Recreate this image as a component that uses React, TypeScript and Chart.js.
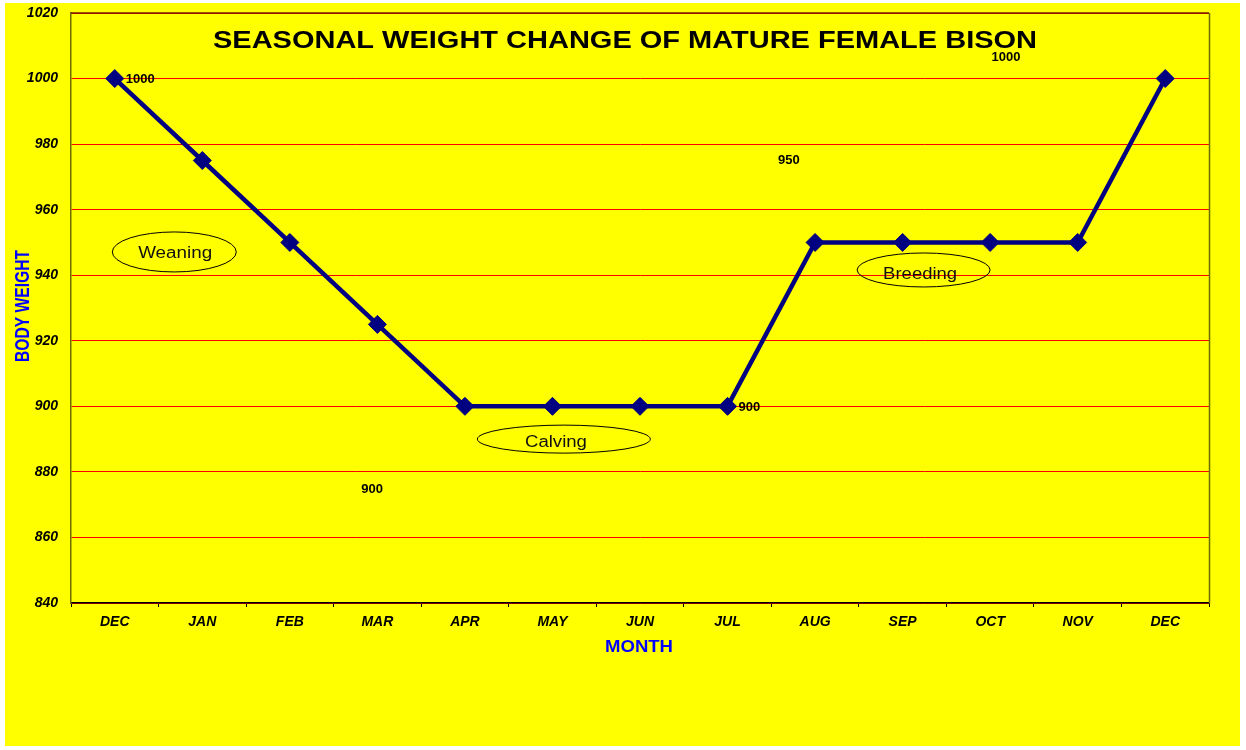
import React, { useEffect, useRef } from 'react';
import { Chart, registerables } from 'chart.js';

Chart.register(...registerables);

const months = ['DEC', 'JAN', 'FEB', 'MAR', 'APR', 'MAY', 'JUN', 'JUL', 'AUG', 'SEP', 'OCT', 'NOV', 'DEC'];
const bodyWeight = [1000, 975, 950, 925, 900, 900, 900, 900, 950, 950, 950, 950, 1000];
const yMin = 840;
const yMax = 1020;
const yStep = 20;
const labeledPoints = [0, 7];

const titleText = 'SEASONAL WEIGHT CHANGE OF MATURE FEMALE BISON';
const xTitle = 'MONTH';
const yTitle = 'BODY WEIGHT';

// stray value labels (category index, value)
const strayLabels = [
  { text: '1000', cat: 10.18, val: 1006.6 },
  { text: '950', cat: 7.7, val: 975.1 },
  { text: '900', cat: 2.94, val: 874.8 },
];

// season ellipses
const seasons = [
  { text: 'Weaning', cat: 0.68, val: 947.1, tcat: 0.69, tval: 946.5, rx: 62, ry: 20, tw: 74 },
  { text: 'Calving', cat: 5.13, val: 890.0, tcat: 5.04, tval: 889.0, rx: 86.5, ry: 14, tw: 62 },
  { text: 'Breeding', cat: 9.24, val: 941.6, tcat: 9.2, tval: 940.1, rx: 66.5, ry: 17, tw: 74 },
];

function fitText(ctx: CanvasRenderingContext2D, text: string, x: number, y: number, font: string, width: number, color: string, rotate = false) {
  ctx.save();
  ctx.font = font;
  ctx.fillStyle = color;
  ctx.textAlign = 'center';
  ctx.textBaseline = 'middle';
  const w = ctx.measureText(text).width;
  const s = width / w;
  ctx.translate(x, y);
  if (rotate) ctx.rotate(-Math.PI / 2);
  ctx.scale(s, 1);
  ctx.fillText(text, 0, 0);
  ctx.restore();
}

const decorPlugin = {
  id: 'decor',
  beforeDatasetsDraw(chart: any) {
    const { ctx, chartArea } = chart;
    ctx.save();
    ctx.strokeStyle = '#6e6e00';
    ctx.lineWidth = 1.5;
    ctx.beginPath();
    ctx.moveTo(chartArea.right + 0.5, chartArea.top);
    ctx.lineTo(chartArea.right + 0.5, chartArea.bottom);
    ctx.stroke();
    ctx.strokeStyle = '#7a1a00';
    ctx.lineWidth = 1.5;
    ctx.beginPath();
    ctx.moveTo(chartArea.left, chartArea.top);
    ctx.lineTo(chartArea.right, chartArea.top);
    ctx.stroke();
    ctx.restore();
  },
  afterDraw(chart: any) {
    const { ctx } = chart;
    const xs = chart.scales.x;
    const ys = chart.scales.y;
    const catPx = (c: number) => xs.getPixelForValue(0) + c * (xs.getPixelForValue(1) - xs.getPixelForValue(0));

    // title
    fitText(ctx, titleText, 625, 42, 'bold 23px Arial, "Liberation Sans", sans-serif', 824, '#000000');
    // axis titles
    fitText(ctx, xTitle, 639, 647, 'bold 17px Arial, "Liberation Sans", sans-serif', 68, '#0000FF');
    fitText(ctx, yTitle, 23, 306, 'bold 20px Arial, "Liberation Sans", sans-serif', 112, '#0000FF', true);

    // point labels
    const meta = chart.getDatasetMeta(0);
    ctx.save();
    ctx.font = 'bold 13px Arial, "Liberation Sans", sans-serif';
    ctx.fillStyle = '#000000';
    ctx.textAlign = 'left';
    ctx.textBaseline = 'middle';
    labeledPoints.forEach((i) => {
      const el = meta.data[i];
      ctx.fillText(String(bodyWeight[i]), el.x + 11, el.y + 1);
    });
    ctx.textAlign = 'center';
    strayLabels.forEach((l) => {
      ctx.fillText(l.text, catPx(l.cat), ys.getPixelForValue(l.val));
    });
    ctx.restore();

    // ellipses
    seasons.forEach((s) => {
      const cx = catPx(s.cat);
      const cy = ys.getPixelForValue(s.val);
      ctx.save();
      ctx.strokeStyle = '#000000';
      ctx.lineWidth = 1;
      ctx.beginPath();
      ctx.ellipse(cx, cy, s.rx, s.ry, 0, 0, Math.PI * 2);
      ctx.stroke();
      ctx.restore();
      fitText(ctx, s.text, catPx(s.tcat), ys.getPixelForValue(s.tval), '16px Arial, "Liberation Sans", sans-serif', s.tw, '#111111');
    });
  },
};

export default function App() {
  const ref = useRef<HTMLCanvasElement>(null);
  useEffect(() => {
    if (!ref.current) return;
    const chart = new Chart(ref.current, {
      type: 'line',
      data: {
        labels: months,
        datasets: [
          {
            data: bodyWeight,
            borderColor: '#000080',
            backgroundColor: '#000080',
            borderWidth: 4.5,
            pointStyle: 'rectRot',
            pointRadius: 9,
            pointBackgroundColor: '#000080',
            pointBorderColor: '#000080',
            pointBorderWidth: 1,
            tension: 0,
            fill: false,
          },
        ],
      },
      options: {
        animation: false,
        responsive: false,
        maintainAspectRatio: false,
        layout: { padding: { left: 0, top: 13, right: 37, bottom: 0 } },
        plugins: {
          legend: { display: false },
          tooltip: { enabled: false },
          title: { display: false },
        },
        scales: {
          x: {
            type: 'category',
            offset: true,
            afterFit(axis: any) {
              axis.height = 147;
              axis.paddingLeft = 0;
              axis.paddingRight = 0;
            },
            grid: {
              offset: true,
              drawOnChartArea: false,
              drawTicks: true,
              tickLength: 4,
              color: '#000000',
            },
            border: { display: true, color: '#000000', width: 1.5 },
            ticks: {
              color: '#000000',
              padding: 7,
              maxRotation: 0,
              autoSkip: false,
              font: { family: 'Arial, "Liberation Sans", sans-serif', size: 14, style: 'italic', weight: 'bold' },
            },
          },
          y: {
            min: yMin,
            max: yMax,
            afterFit(axis: any) {
              axis.width = 71;
              axis.paddingTop = 0;
              axis.paddingBottom = 0;
            },
            ticks: {
              stepSize: yStep,
              color: '#000000',
              padding: 13,
              callback: (v: any) => String(v),
              font: { family: 'Arial, "Liberation Sans", sans-serif', size: 14, style: 'italic', weight: 'bold' },
            },
            grid: {
              color: '#FF0000',
              lineWidth: 1,
              drawTicks: false,
            },
            border: { display: true, color: '#6e6e00', width: 1.5 },
          },
        },
      },
      plugins: [decorPlugin],
    } as any);
    return () => chart.destroy();
  }, []);

  return (
    <div style={{ position: 'absolute', left: 0, top: 0, width: 1246, height: 750, background: '#ffffff' }}>
      <div style={{ position: 'absolute', left: 5, top: 3, width: 1235, height: 743, background: '#FFFF00' }} />
      <canvas ref={ref} width={1246} height={750} style={{ position: 'absolute', left: 0, top: 0, width: 1246, height: 750 }} />
    </div>
  );
}
